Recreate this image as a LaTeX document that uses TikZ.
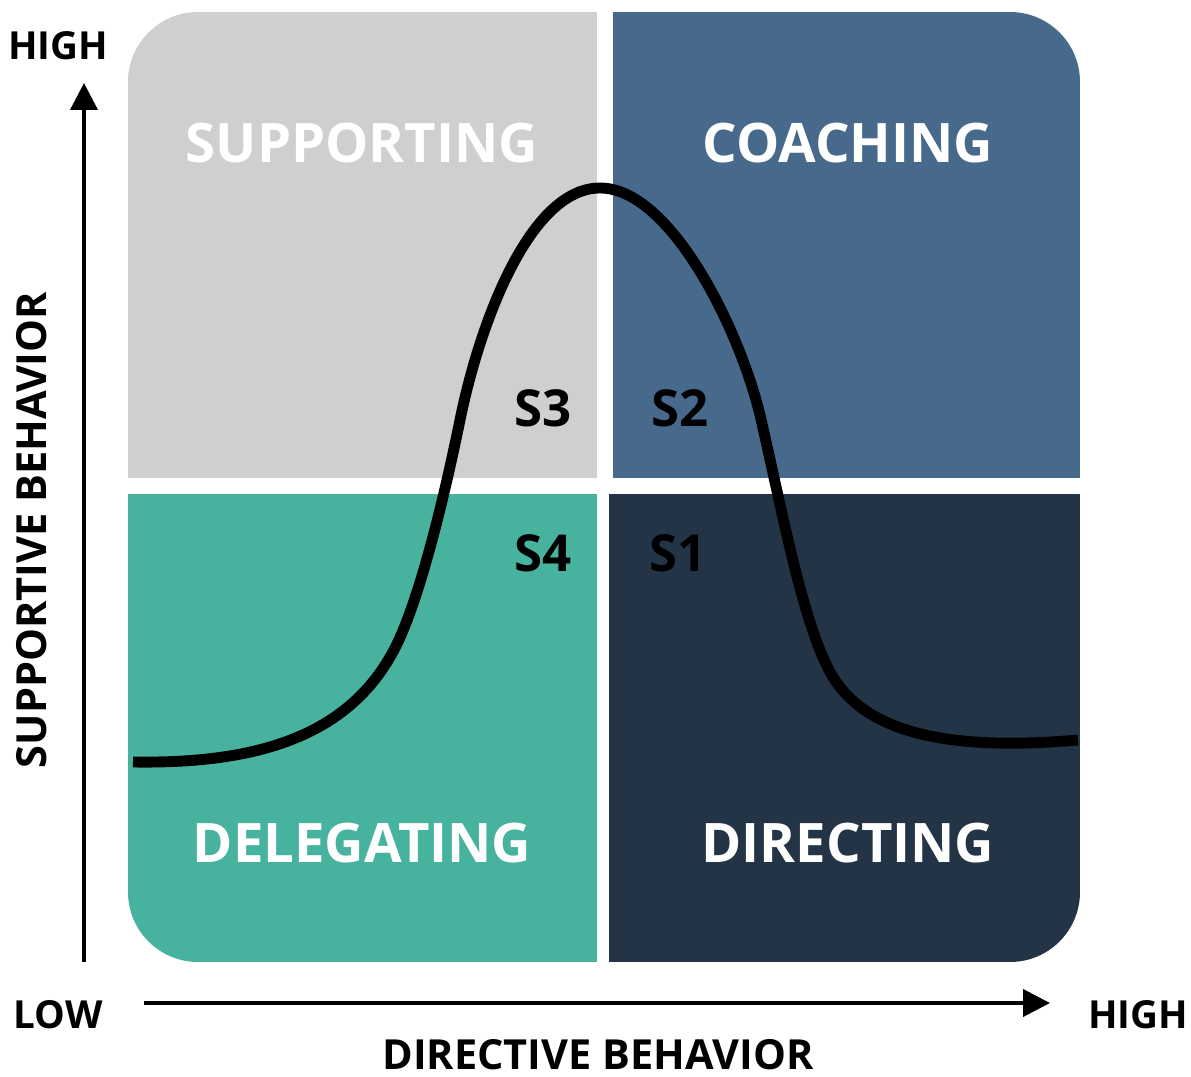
\documentclass[tikz,border=0pt]{standalone}
\usepackage{fontspec}
\setmainfont{Open Sans}
\usepackage{tikz}
\usetikzlibrary{arrows.meta}
\usepackage{xcolor}
\definecolor{supgray}{HTML}{D0CECF}
\definecolor{coachblue}{HTML}{476A8C}
\definecolor{delteal}{HTML}{47B39E}
\definecolor{dirnavy}{HTML}{243447}
\tikzset{%
  >={Triangle[width=5.4mm,length=5.4mm]},
  % Specifications for style of nodes:
         base/.style = {inner sep=0pt, text=black,
                        font=\fontsize{22}{22}\selectfont\bfseries},
    axisTitle/.style = {base, font=\fontsize{23.6}{23.6}\selectfont\bfseries},
    quadLabel/.style = {base, text=white,
                        font=\fontsize{31}{31}\selectfont\bfseries},
   stateLabel/.style = {base, font=\fontsize{29}{29}\selectfont\bfseries},
  % Specifications for style of lines:
         axis/.style = {->, line width=2.3pt},
        curve/.style = {line width=6.2pt},
}

\begin{document}
\begin{tikzpicture}[x=0.02cm, y=-0.02cm]
  \useasboundingbox (0,0) rectangle (1191,1077);
  % Specification of the four quadrants
  \begin{scope}
    \clip[rounded corners=1.4cm] (128,12) rectangle (1080,962);
    \fill[supgray]   (128,12)  rectangle (597,478);
    \fill[coachblue] (613,12)  rectangle (1080,478);
    \fill[delteal]   (128,494) rectangle (597,962);
    \fill[dirnavy]   (609,494) rectangle (1080,962);
  \end{scope}
  \node (supporting) [quadLabel] at (362,143) {SUPPORTING};
  \node (coaching)   [quadLabel] at (848,143) {COACHING};
  \node (delegating) [quadLabel] at (362,843) {DELEGATING};
  \node (directing)  [quadLabel] at (848,843) {DIRECTING};
  % Specification of the style labels
  \node (s3) [stateLabel] at (543,408) {S3};
  \node (s2) [stateLabel] at (680,408) {S2};
  \node (s4) [stateLabel] at (543,553) {S4};
  \node (s1) [stateLabel] at (678,553) {S1};
  % Specification of the curve
  \draw[curve] (133,762) .. controls (260,764) and (350,735) .. (395,648)
    .. controls (418,603) and (442,508) .. (460,420)
    .. controls (480,322) and (530,188) .. (600,188)
    .. controls (670,188) and (739,328) .. (760,415)
    .. controls (782,510) and (802,620) .. (830,672)
    .. controls (862,730) and (940,752) .. (1078,740);
  % Specification of the axes with their labels
  \coordinate (yfoot) at (84,962);
  \coordinate (ytip)  at (84,83);
  \coordinate (xfoot) at (144,1003);
  \coordinate (xtip)  at (1050,1003);
  \draw[axis] (yfoot) -- (ytip);
  \draw[axis] (xfoot) -- (xtip);
  \node (yhigh)  [base] at (58,46)     {HIGH};
  \node (xlow)   [base] at (58,1015)   {LOW};
  \node (xhigh)  [base] at (1138,1015) {HIGH};
  \node (xtitle) [axisTitle] at (598,1055) {DIRECTIVE BEHAVIOR};
  \node (ytitle) [axisTitle, rotate=90] at (32,530) {SUPPORTIVE BEHAVIOR};
\end{tikzpicture}
\end{document}
